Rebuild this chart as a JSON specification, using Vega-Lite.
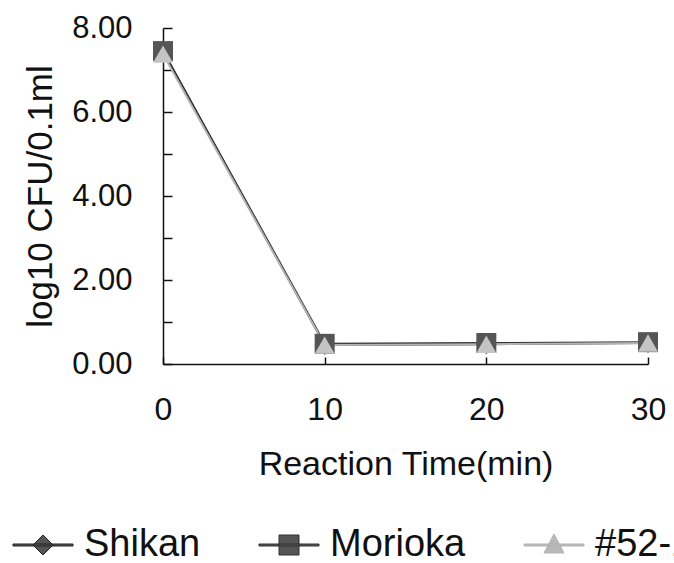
{
  "$schema": "https://vega.github.io/schema/vega-lite/v6.json",
  "width": 485,
  "height": 336,
  "autosize": "none",
  "padding": {"left": 163, "top": 28, "right": 26, "bottom": 199},
  "background": "white",
  "config": {
    "view": {"stroke": null},
    "font": "Liberation Sans",
    "axis": {"grid": false, "domainColor": "#111", "tickColor": "#111", "domainWidth": 1.5, "tickWidth": 1.5, "labelColor": "#111", "titleColor": "#111", "labelFont": "Liberation Sans", "titleFont": "Liberation Sans", "titleFontWeight": "normal"}
  },
  "data": {
    "values": [
      {"series": "Shikan", "time": 0, "value": 7.45},
      {"series": "Shikan", "time": 10, "value": 0.45},
      {"series": "Shikan", "time": 20, "value": 0.47},
      {"series": "Shikan", "time": 30, "value": 0.5},
      {"series": "Morioka", "time": 0, "value": 7.45},
      {"series": "Morioka", "time": 10, "value": 0.48},
      {"series": "Morioka", "time": 20, "value": 0.5},
      {"series": "Morioka", "time": 30, "value": 0.52},
      {"series": "#52-1", "time": 0, "value": 7.38},
      {"series": "#52-1", "time": 10, "value": 0.45},
      {"series": "#52-1", "time": 20, "value": 0.47},
      {"series": "#52-1", "time": 30, "value": 0.5}
    ]
  },
  "encoding": {
    "x": {"field": "time", "type": "quantitative", "scale": {"domain": [0, 30], "nice": false, "zero": false},
      "axis": {"values": [0, 10, 20, 30], "title": "Reaction Time(min)", "labelFontSize": 32, "titleFontSize": 34, "tickSize": -7, "labelPadding": 37, "titlePadding": 22, "labelFlush": false}},
    "y": {"field": "value", "type": "quantitative", "scale": {"domain": [0, 8], "nice": false},
      "axis": {"values": [0, 1, 2, 3, 4, 5, 6, 7, 8], "labelExpr": "datum.value % 2 === 0 ? format(datum.value, '.2f') : ''", "title": "log10 CFU/0.1ml", "labelFontSize": 31, "titleFontSize": 35, "tickSize": -9, "labelPadding": 40, "titlePadding": 13, "labelFlush": false}}
  },
  "layer": [
    {
      "mark": {"type": "line", "strokeWidth": 2},
      "encoding": {
        "color": {"field": "series", "type": "nominal", "scale": {"domain": ["Shikan", "Morioka", "#52-1"], "range": ["#222222", "#333333", "#b3b3b3"]},
          "legend": {
            "orient": "none", "legendX": -139, "legendY": 498, "direction": "horizontal", "title": null,
            "symbolSize": 400, "labelFontSize": 38, "labelColor": "#111", "labelOffset": 22, "columnPadding": 56, "symbolStrokeWidth": 1,
            "encode": {"symbols": {"update": {
              "shape": {"signal": "datum.value === 'Shikan' ? 'M-3,-0.1H3V0.1H-3ZM0,-1L1,0L0,1L-1,0Z' : datum.value === 'Morioka' ? 'M-3,-0.1H3V0.1H-3ZM-1,-1H1V1H-1Z' : 'M-3,-0.1H3V0.1H-3ZM0,-1.1L1,0.8H-1Z'"},
              "fill": {"signal": "datum.value === '#52-1' ? '#b8b8b8' : '#555555'"},
              "stroke": {"signal": "datum.value === '#52-1' ? '#a8a8a8' : '#333333'"},
              "strokeWidth": {"value": 1},
              "opacity": {"value": 1},
              "fillOpacity": {"value": 1},
              "strokeOpacity": {"value": 1}
            }}}
          }}
      }
    },
    {
      "transform": [{"filter": "datum.series === 'Shikan'"}],
      "mark": {"type": "point", "filled": true, "size": 400, "opacity": 1, "strokeWidth": 0, "shape": "diamond", "fill": "#5a5a5a"}
    },
    {
      "transform": [{"filter": "datum.series === 'Morioka'"}],
      "mark": {"type": "point", "filled": true, "size": 400, "opacity": 1, "strokeWidth": 0, "shape": "square", "fill": "#555555"}
    },
    {
      "transform": [{"filter": "datum.series === '#52-1'"}],
      "mark": {"type": "point", "filled": true, "size": 400, "opacity": 1, "strokeWidth": 0, "shape": "triangle-up", "fill": "#c4c4c4"}
    }
  ]
}
